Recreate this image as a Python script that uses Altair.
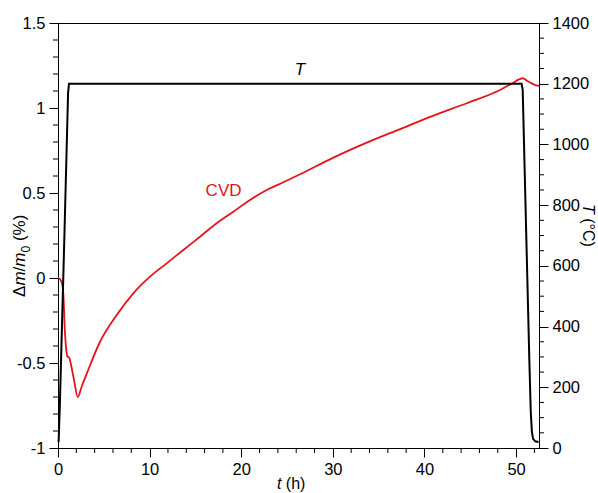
import altair as alt
import pandas as pd

FONT = "Liberation Sans"
RED = "#e3141b"

# CVD relative mass change (left axis, %)
cvd_t = [0, 0.22, 0.33, 0.4, 0.5, 0.58, 0.76, 0.9, 1.02, 1.24, 1.38, 1.75, 2.15,
         2.58, 3.3, 4.59, 6.41, 8.22, 10.04, 11.86, 13.68, 15.5, 17.32, 19.14,
         20.96, 22.78, 24.6, 26.42, 30.06, 33.7, 37.34, 40.98, 44.6, 48.25,
         49.7, 50.3, 50.73, 51.2, 51.7, 52.2, 52.5]
cvd_dm = [0, -0.006, -0.016, -0.025, -0.05, -0.09, -0.32, -0.42, -0.46, -0.47,
          -0.50, -0.60, -0.70, -0.64, -0.54, -0.375, -0.218, -0.09, 0.008,
          0.086, 0.165, 0.243, 0.322, 0.39, 0.459, 0.518, 0.563, 0.61, 0.708,
          0.796, 0.876, 0.955, 1.028, 1.106, 1.149, 1.168, 1.175, 1.16, 1.145,
          1.133, 1.131]

# Furnace temperature (right axis, °C)
temp_t = [0, 0.07, 0.2, 0.7, 1.1, 1.2, 50.6, 50.72, 51.45, 51.6, 51.72,
          51.85, 52.1, 52.45]
temp_C = [20, 22, 140, 700, 1170, 1200, 1200, 1180, 284, 120, 55, 30, 22, 20]

# annotations (position in t / left-axis units)
T_note = {"t": [26.4], "v": [1.192], "txt": ["T"]}
cvd_note = {"t": [18.07], "v": [0.482], "txt": ["CVD"]}

# axis ticks
x_major = [0, 10, 20, 30, 40, 50]
x_minor = [v for v in range(0, 53, 2) if v % 10 != 0]
left_major = [-1, -0.5, 0, 0.5, 1, 1.5]
left_minor = [round(-1 + 0.1 * i, 1) for i in range(26) if i % 5 != 0]
right_major = [0, 200, 400, 600, 800, 1000, 1200, 1400]
right_minor = [v for v in range(0, 1401, 50) if v % 200 != 0]

W, H = 481, 425
LBL = 16.5
MAJ, MIN = 9, 5
TICKC = "black"

cvd_df = pd.DataFrame({"t": cvd_t, "dm": cvd_dm, "i": range(len(cvd_t))})
temp_df = pd.DataFrame({"t": temp_t, "T": temp_C, "i": range(len(temp_t))})

common = dict(
    title=None, grid=False, labelFont=FONT, labelFontSize=LBL,
    labelColor="black", domainColor="black", tickColor="black",
    domainWidth=1, tickWidth=1, tickSize=MAJ, labelPadding=4,
    labelFlush=False, labelOverlap=False, labelExpr="toString(datum.value)",
)

x_scale = alt.Scale(domain=[0, 52.5], nice=False, zero=False)
left_scale = alt.Scale(domain=[-1, 1.5], nice=False, zero=False)
right_scale = alt.Scale(domain=[0, 1400], nice=False, zero=False)
x_axis = alt.Axis(values=x_major, **common)
left_axis = alt.Axis(values=left_major, **common)
right_axis = alt.Axis(orient="right", values=right_major, **common)

X = alt.X("t:Q", scale=x_scale, axis=x_axis)

cvd_line = alt.Chart(cvd_df).mark_line(
    color=RED, strokeWidth=1.8, interpolate="monotone"
).encode(
    x=X, y=alt.Y("dm:Q", scale=left_scale, axis=left_axis), order="i:Q",
)
T_text = alt.Chart(pd.DataFrame(T_note)).mark_text(
    font=FONT, fontSize=17, fontStyle="italic", align="center",
    baseline="alphabetic", color="black",
).encode(
    x=X, y=alt.Y("v:Q", scale=left_scale, axis=left_axis), text="txt:N",
)
cvd_text = alt.Chart(pd.DataFrame(cvd_note)).mark_text(
    font=FONT, fontSize=17, align="center", baseline="alphabetic", color=RED,
).encode(
    x=X, y=alt.Y("v:Q", scale=left_scale, axis=left_axis), text="txt:N",
)
# minor ticks (outward) for bottom and left axes
x_minor_ticks = alt.Chart(pd.DataFrame({"t": x_minor})).mark_rule(
    color=TICKC, strokeWidth=1
).encode(x=X, y=alt.value(H), y2=alt.value(H + MIN))
left_minor_ticks = alt.Chart(pd.DataFrame({"v": left_minor})).mark_rule(
    color=TICKC, strokeWidth=1
).encode(
    y=alt.Y("v:Q", scale=left_scale, axis=left_axis),
    x=alt.value(0), x2=alt.value(-MIN),
)
left_layer = alt.layer(cvd_line, T_text, cvd_text, x_minor_ticks, left_minor_ticks)

temp_line = alt.Chart(temp_df).mark_line(color="black", strokeWidth=2).encode(
    x=X, y=alt.Y("T:Q", scale=right_scale, axis=right_axis), order="i:Q",
)
right_minor_ticks = alt.Chart(pd.DataFrame({"T": right_minor})).mark_rule(
    color=TICKC, strokeWidth=1
).encode(
    y=alt.Y("T:Q", scale=right_scale, axis=right_axis),
    x=alt.value(W), x2=alt.value(W + MIN),
)
right_layer = alt.layer(temp_line, right_minor_ticks)


def piece(text, x, y, angle=0, style="normal", size=17):
    return alt.Chart(alt.Data(values=[{"a": 1}])).mark_text(
        text=text, font=FONT, fontSize=size, fontStyle=style, angle=angle,
        align="left", baseline="alphabetic", color="black",
    ).encode(x=alt.value(x), y=alt.value(y))


# axis titles built from pieces (mixed italic / subscript)
titles = [
    piece("t", 219, 466, style="italic", size=16),
    piece("(h)", 227.8, 466, size=16),
    piece("Δ", -33, 274, angle=270),
    piece("m", -33, 262.6, angle=270, style="italic"),
    piece("/", -33, 248.4, angle=270),
    piece("m", -33, 243.7, angle=270, style="italic"),
    piece("0", -28.5, 229.5, angle=270, size=12),
    piece("(%)", -33, 218.1, angle=270),
    piece("T", 525, 181, angle=90, style="italic", size=16),
    piece("(°C)", 525, 195.2, angle=90, size=16),
]

chart = alt.layer(left_layer, right_layer, *titles).resolve_scale(
    y="independent"
).properties(
    width=W, height=H,
    padding={"left": 58, "top": 23, "right": 59, "bottom": 45},
    autosize=alt.AutoSizeParams(type="none"),
    background="white",
).configure_view(
    stroke="black", strokeWidth=1
)

chart.save("out.html", embed_options={"renderer": "svg", "actions": False})
